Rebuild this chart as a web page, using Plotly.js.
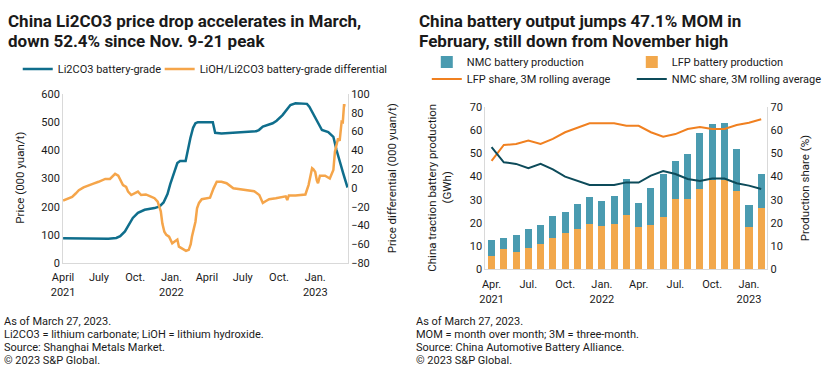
<!DOCTYPE html>
<html>
<head>
<meta charset="utf-8">
<script src="https://cdn.plot.ly/plotly-3.0.1.min.js"></script>
<style>html,body{margin:0;padding:0;background:#fff;}#chart{width:837px;height:379px;}</style>
</head>
<body>
<div id="chart"></div>
<script>
// ---- Left chart data ----
const li2co3Dates = ['2021-04-01','2021-06-05','2021-07-25','2021-08-14','2021-08-24','2021-09-05','2021-09-15','2021-09-25','2021-10-08','2021-10-25','2021-11-19','2021-12-02','2021-12-12','2021-12-22','2021-12-29','2022-01-08','2022-01-16','2022-01-23','2022-02-06','2022-02-18','2022-02-25','2022-03-03','2022-03-09','2022-04-16','2022-04-22','2022-05-08','2022-05-28','2022-06-27','2022-08-04','2022-08-11','2022-08-21','2022-09-15','2022-09-25','2022-10-10','2022-10-18','2022-10-30','2022-11-12','2022-12-11','2022-12-17','2022-12-24','2023-01-05','2023-01-18','2023-02-03','2023-02-16','2023-02-24','2023-03-04','2023-03-13','2023-03-24'];
const li2co3Price = [88,87,86,89,95,112,138,160,178,189,195,201,215,245,280,320,355,362,362,443,480,496,500,500,462,460,462,466,468,472,484,496,505,525,540,561,567,565,555,537,508,472,465,448,401,366,318,268];

const diffDates = ['2021-04-01','2021-04-11','2021-04-24','2021-05-03','2021-05-11','2021-05-23','2021-06-05','2021-06-17','2021-06-30','2021-07-17','2021-07-29','2021-08-04','2021-08-11','2021-08-19','2021-08-25','2021-08-31','2021-09-08','2021-09-13','2021-09-21','2021-09-28','2021-10-08','2021-10-16','2021-10-28','2021-11-10','2021-11-19','2021-11-27','2021-12-05','2021-12-09','2021-12-14','2021-12-19','2021-12-26','2022-01-03','2022-01-11','2022-01-16','2022-01-20','2022-01-26','2022-02-02','2022-02-07','2022-02-14','2022-02-19','2022-02-22','2022-03-03','2022-03-07','2022-03-12','2022-03-19','2022-04-01','2022-04-09','2022-04-18','2022-04-26','2022-05-08','2022-05-21','2022-06-07','2022-06-27','2022-07-18','2022-07-30','2022-08-12','2022-08-21','2022-08-29','2022-09-06','2022-09-23','2022-10-10','2022-10-18','2022-10-22','2022-10-26','2022-11-12','2022-12-07','2022-12-15','2022-12-24','2022-12-27','2023-01-01','2023-01-05','2023-01-08','2023-01-13','2023-01-26','2023-02-07','2023-02-16','2023-02-20','2023-02-24','2023-02-28','2023-03-04','2023-03-09','2023-03-12','2023-03-15','2023-03-19'];
const diffValues = [-13.5,-12,-9.5,-6,-2.5,0.5,3,4.5,6.5,9.5,9.5,12,15,13,8,3,1,-4,-7.6,-6,-4,-7.6,-7,-9.4,-11,-14.7,-25,-38,-46.7,-50,-52,-59,-57,-55,-62.6,-64,-66,-67,-66,-60,-52,-36,-21.7,-16,-12,-11,-10.5,-0.5,6.6,6.5,5,-0.5,-1.5,-2.3,-3.5,-7.6,-16,-14,-12,-11,-10,-9,-13,-8,-8,-7,3,21,20,17,8,5,13,13,10,19,38.5,45,52.8,50,70.5,70,88,88];

const leftTicks = ['2021-04-01','2021-07-01','2021-10-01','2022-01-01','2022-04-01','2022-07-01','2022-10-01','2023-01-01'];
const leftTickText = ['April<br>2021','July','Oct.','Jan.<br>2022','April','July','Oct.','Jan.<br>2023'];

// ---- Right chart data ----
const months = ['2021-04','2021-05','2021-06','2021-07','2021-08','2021-09','2021-10','2021-11','2021-12','2022-01','2022-02','2022-03','2022-04','2022-05','2022-06','2022-07','2022-08','2022-09','2022-10','2022-11','2022-12','2023-01','2023-02'];
const lfpProd = [5.8,8.5,7.4,9.1,10.8,13.4,15.7,17.5,19.6,18.5,19.6,23.2,18.3,19.0,22.5,30.3,30.3,34.6,38.4,38.4,33.8,18.0,26.4];
const nmcProd = [6.8,5.1,7.3,8.1,8.4,9.4,9.1,10.5,11.7,10.8,11.9,15.8,10.4,16.2,18.6,16.6,19.6,24.3,24.4,24.8,18.3,9.8,14.9];
const lfpShare = [46.8,53.7,54.1,55.6,54.1,56.3,59.2,61.2,63.1,63.1,63.1,62.0,62.0,59.2,57.3,58.4,60.6,61.5,60.6,60.6,62.3,63.3,64.8];
const nmcShare = [52.8,46.2,45.5,43.6,45.5,43.1,40.0,38.1,36.4,36.4,36.4,37.5,37.4,40.4,42.4,41.1,39.0,38.1,39.2,39.2,37.1,36.1,34.6];
const rightTicks = ['2021-04','2021-07','2021-10','2022-01','2022-04','2022-07','2022-10','2023-01'];
const rightTickText = ['Apr.<br>2021','Jul.','Oct.','Jan.<br>2022','Apr.','Jul.','Oct.','Jan.<br>2023'];

const W = 837, H = 379;
const FONT = 'Roboto, "Liberation Sans", sans-serif';
const TXT = '#1a1a1a';
const px = v => v / W;
const py = v => 1 - v / H;

const traces = [
  {x: li2co3Dates, y: li2co3Price, type: 'scatter', mode: 'lines', name: 'Li2CO3 battery-grade', showlegend: true,
   line: {color: '#0f6e8c', width: 2.5}, xaxis: 'x', yaxis: 'y', legend: 'legend'},
  {x: diffDates, y: diffValues, type: 'scatter', mode: 'lines', name: 'LiOH/Li2CO3 battery-grade differential', showlegend: true,
   line: {color: '#f5a54a', width: 2.5}, xaxis: 'x', yaxis: 'y2', legend: 'legend4'},
  {x: months, y: lfpProd, type: 'bar', name: 'LFP battery production', marker: {color: '#f2a84c'}, showlegend: true,
   xaxis: 'x2', yaxis: 'y3', legend: 'legend2', legendrank: 2},
  {x: months, y: nmcProd, type: 'bar', name: 'NMC battery production', marker: {color: '#4a9bb0'}, showlegend: true,
   xaxis: 'x2', yaxis: 'y3', legend: 'legend2', legendrank: 1},
  {x: months, y: lfpShare, type: 'scatter', mode: 'lines', name: 'LFP share, 3M rolling average', showlegend: true,
   line: {color: '#f08020', width: 2}, xaxis: 'x2', yaxis: 'y4', legend: 'legend3', legendrank: 1},
  {x: months, y: nmcShare, type: 'scatter', mode: 'lines', name: 'NMC share, 3M rolling average', showlegend: true,
   line: {color: '#0d4b5a', width: 2}, xaxis: 'x2', yaxis: 'y4', legend: 'legend3', legendrank: 2}
];

const axisCommon = {showgrid: false, zeroline: false, showline: true, linecolor: '#d9d9d9', linewidth: 1,
  ticks: '', tickfont: {family: FONT, size: 11, color: TXT}, fixedrange: true};

const ann = [];
function addText(text, x, y, opts) {
  ann.push(Object.assign({text: text, x: px(x), y: py(y), xref: 'paper', yref: 'paper', showarrow: false,
    xanchor: 'left', yanchor: 'middle', borderpad: 0, font: {family: FONT, size: 11, color: TXT}}, opts || {}));
}
// Titles
const titleFont = {family: FONT, size: 17, color: TXT, weight: 700};
addText('China Li2CO3 price drop accelerates in March,', 7, 20.5, {font: titleFont});
addText('down 52.4% since Nov. 9-21 peak', 7, 40.5, {font: titleFont});
addText('China battery output jumps 47.1% MOM in', 424, 20.5, {font: titleFont});
addText('February, still down from November high', 424, 40.5, {font: titleFont});
// Footnotes
const noteFont = {family: FONT, size: 11, color: TXT};
const leftNotes = ['As of March 27, 2023.', 'Li2CO3 = lithium carbonate; LiOH = lithium hydroxide.', 'Source: Shanghai Metals Market.', '\u00A9 2023 S&P Global.'];
const rightNotes = ['As of March 27, 2023.', 'MOM = month over month; 3M = three-month.', 'Source: China Automotive Battery Alliance.', '\u00A9 2023 S&P Global.'];
leftNotes.forEach((t, i) => addText(t, 3, 321.8 + i * 12.9, {font: noteFont}));
rightNotes.forEach((t, i) => addText(t, 421, 321.8 + i * 12.9, {font: noteFont}));
// Axis titles
const axTitleFont = {family: FONT, size: 11.5, color: TXT};
addText('Price (000 yuan/t)', 20, 178, {textangle: -90, xanchor: 'center', font: axTitleFont});
addText('Price differential (000 yuan/t)', 398, 178, {textangle: -90, xanchor: 'center', font: axTitleFont});
addText('China traction battery production', 438, 188, {textangle: -90, xanchor: 'center', font: axTitleFont});
addText('(GWh)', 453, 188, {textangle: -90, xanchor: 'center', font: axTitleFont});
addText('Production share (%)', 817, 188, {textangle: -90, xanchor: 'center', font: axTitleFont});

const legFont = {family: FONT, size: 11, color: TXT};
const legBase = {orientation: 'h', xanchor: 'left', yanchor: 'middle', font: legFont, traceorder: 'normal',
  bgcolor: 'rgba(0,0,0,0)', itemclick: false, itemdoubleclick: false, visible: true};
const layout = {
  width: W, height: H, margin: {l: 0, r: 0, t: 0, b: 0}, paper_bgcolor: '#fff', plot_bgcolor: '#fff',
  showlegend: true, barmode: 'stack', bargap: 0.42, hovermode: false,
  xaxis: Object.assign({}, axisCommon, {type: 'date', domain: [px(64), px(353)], anchor: 'y',
    range: ['2021-04-01', '2023-03-25'], tickvals: leftTicks, ticktext: leftTickText, tickangle: 0, ticklabelstandoff: 4}),
  yaxis: Object.assign({}, axisCommon, {domain: [1 - 263 / H, 1 - 94 / H], anchor: 'x', range: [0, 600], dtick: 100}),
  yaxis2: Object.assign({}, axisCommon, {overlaying: 'y', side: 'right', anchor: 'x', range: [-80, 100], dtick: 20}),
  xaxis2: Object.assign({}, axisCommon, {type: 'category', domain: [px(492.5), px(778.5)], anchor: 'y3',
    range: [-0.5, 22.5], tickvals: rightTicks, ticktext: rightTickText, tickangle: 0, ticklabelstandoff: 5}),
  yaxis3: Object.assign({}, axisCommon, {domain: [1 - 269 / H, 1 - 107.3 / H], anchor: 'x2', range: [0, 70], dtick: 10}),
  yaxis4: Object.assign({}, axisCommon, {overlaying: 'y3', side: 'right', anchor: 'x2', range: [0, 70], dtick: 10}),
  legend: Object.assign({}, legBase, {x: px(18), y: py(69)}),
  legend4: Object.assign({}, legBase, {x: px(162), y: py(69)}),
  legend2: Object.assign({}, legBase, {x: px(433), y: py(62), entrywidth: 160}),
  legend3: Object.assign({}, legBase, {x: px(433), y: py(79), entrywidth: 160}),
  annotations: ann
};

Plotly.newPlot('chart', traces, layout, {staticPlot: true, displayModeBar: false});
</script>
</body>
</html>
